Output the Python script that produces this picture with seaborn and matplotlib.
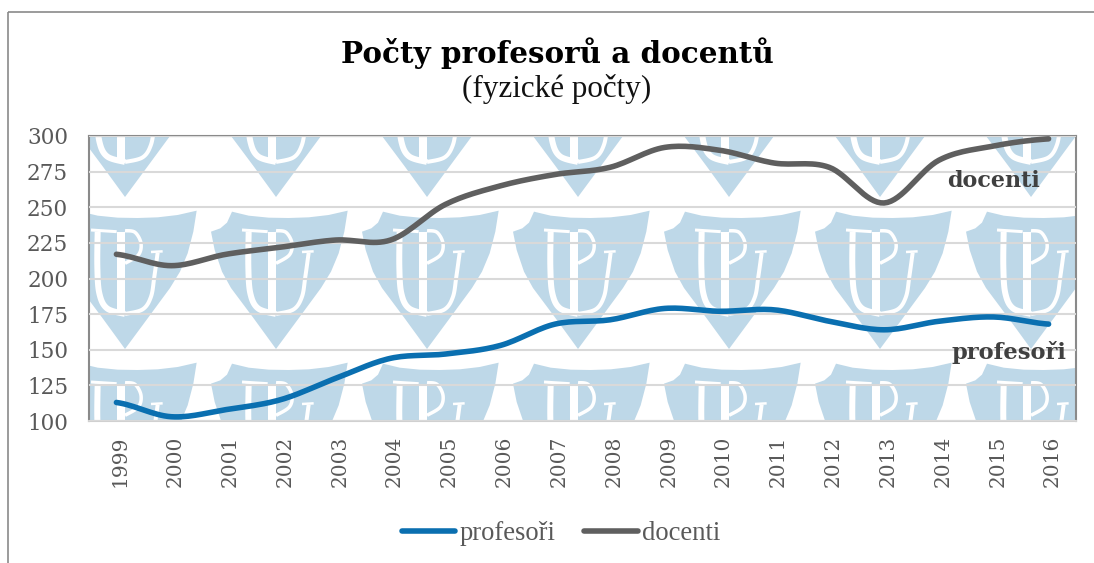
import matplotlib
matplotlib.use("Agg")
import matplotlib.pyplot as plt
import numpy as np
import pandas as pd
import seaborn as sns
from matplotlib.lines import Line2D
from matplotlib.patches import PathPatch, Polygon, Rectangle
from matplotlib.path import Path
from matplotlib.transforms import Affine2D

years = ["1999", "2000", "2001", "2002", "2003", "2004", "2005", "2006", "2007",
         "2008", "2009", "2010", "2011", "2012", "2013", "2014", "2015", "2016"]
profesori = [113, 103, 108, 115, 130, 144, 147, 153, 168, 171, 179, 177, 178, 170, 164, 170, 173, 168]
docenti = [217, 209, 217, 222, 227, 227, 252, 265, 273, 278, 292, 290, 281, 278, 253, 283, 293, 298]
y_ticks = [100, 125, 150, 175, 200, 225, 250, 275, 300]

BLUE = "#0a6fb0"
DARK = "#5f5f5f"
LOGO = "#bed8e8"
W, H = 1094, 563

SHIELD = [(100, 35), (150, 47), (210, 53), (270, 54), (330, 52), (390, 45), (447, 32), (437, 95),
          (420, 160), (397, 215), (367, 264), (300, 355), (232, 447), (165, 355), (97, 264),
          (70, 215), (48, 150), (37, 95), (65, 85), (85, 68), (100, 35)]
STROKES = [
    ([(150, 95), (149, 200), (155, 280), (178, 325), (232, 342)], 6),
    ([(232, 342), (285, 328), (310, 290), (320, 230), (330, 158)], 4),
    ([(130, 90), (207, 95)], 3),
    ([(310, 156), (345, 154)], 2.5),
    ([(219, 95), (219, 345)], 8),
    ([(232, 92), (262, 97), (280, 130), (272, 165), (232, 190)], 3.5),
]


def smooth(values, n=16):
    # same idea as the "smoothed line" option in Excel
    pts = [values[0]] + list(values) + [values[-1]]
    xs, ys = [], []
    for i in range(1, len(pts) - 2):
        t = np.linspace(0, 1, n, endpoint=False)
        p0, p1, p2, p3 = pts[i - 1], pts[i], pts[i + 1], pts[i + 2]
        y = 0.5 * (2 * p1 + (p2 - p0) * t + (2 * p0 - 5 * p1 + 4 * p2 - p3) * t ** 2
                   + (3 * p1 - p0 - 3 * p2 + p3) * t ** 3)
        xs.extend(i - 1 + t)
        ys.extend(y)
    xs.append(len(values) - 1)
    ys.append(values[-1])
    return xs, ys


def draw_logo(ax, trans, tip_x, tip_y):
    def place(points):
        return [(tip_x + (x - 232) / 3, tip_y + (y - 447) / 3) for x, y in points]

    ax.add_patch(Polygon(place(SHIELD), closed=True, fc=LOGO, ec="none", transform=trans, zorder=0.5))
    for points, width in STROKES:
        placed = place(points)
        sx = smooth([p[0] for p in placed])[1]
        sy = smooth([p[1] for p in placed])[1]
        ax.add_patch(PathPatch(Path(list(zip(sx, sy))), fill=False, ec="white", lw=width * 0.72,
                               transform=trans, zorder=0.6))


sns.set_theme(style="white")
plt.rcParams["font.family"] = ["Liberation Serif", "DejaVu Serif"]

fig = plt.figure(figsize=(W / 100, H / 100), dpi=100, facecolor="white")
ax = fig.add_axes([89 / W, (H - 421) / H, 987 / W, 285 / H])
px = Affine2D().scale(1, -1).translate(0, H)

rows = []
for name, values in [("profesoři", profesori), ("docenti", docenti)]:
    xs, ys = smooth(values)
    rows.append(pd.DataFrame({"x": xs, "y": ys, "series": name}))
df = pd.concat(rows)

sns.lineplot(data=df, x="x", y="y", hue="series", palette={"profesoři": BLUE, "docenti": DARK},
             estimator=None, sort=False, lw=4, ax=ax, legend=False, zorder=3,
             solid_capstyle="round")

for tip_y in [197, 349, 501]:
    for tip_x in range(125, 1100, 151):
        draw_logo(ax, px, tip_x, tip_y)

ax.set_xlim(-0.5, 17.5)
ax.set_ylim(100, 300)
ax.set_xticks(range(len(years)))
ax.set_xticklabels(years, rotation=90, fontsize=14.5, color="#595959")
ax.set_yticks(y_ticks)
ax.set_yticklabels(y_ticks, fontsize=15.5, color="#595959")
for tick in ax.get_xticklabels() + ax.get_yticklabels():
    tick.set_fontfamily("DejaVu Serif")
ax.tick_params(axis="x", length=0, pad=10.5)
ax.tick_params(axis="y", length=0, pad=15)
for tick in ax.get_xticklabels():
    tick.set_transform(tick.get_transform() + Affine2D().translate(4, 0))
ax.set_xlabel("")
ax.set_ylabel("")
ax.grid(axis="y", color="#d9d9d9", lw=1.5, zorder=1)
ax.set_axisbelow(False)
for line in ax.get_ygridlines():
    line.set_zorder(1)
for name in ["top", "left", "right"]:
    ax.spines[name].set_color("#8a8a8a")
    ax.spines[name].set_linewidth(1.5)
ax.spines["bottom"].set_color("#d0d0d0")
ax.spines["bottom"].set_linewidth(1.5)

# outer chart frame, runs off the right and bottom edge of the crop
fig.add_artist(Rectangle((8, 12), W + 40, H + 40, fill=False, ec="#8a8a8a", lw=1.2, transform=px))


def label(x, y, text, **kw):
    fig.text(x / W, 1 - y / H, text, va="baseline", **kw)


label(557, 63, "Počty profesorů a docentů", ha="center", fontsize=21.2, fontweight="bold",
      color="black", family="DejaVu Serif")
label(557, 97, "(fyzické počty)", ha="center", fontsize=22.4, color="#111111")
label(947, 187, "docenti", fontsize=16, fontweight="bold", color="#404040", family="DejaVu Serif")
label(952, 359, "profesoři", fontsize=16.3, fontweight="bold", color="#404040", family="DejaVu Serif")

handles = [Line2D([], [], color=BLUE, lw=4, solid_capstyle="round", label="profesoři"),
           Line2D([], [], color=DARK, lw=4, solid_capstyle="round", label="docenti")]
fig.legend(handles=handles, loc="center", bbox_to_anchor=(561 / W, 1 - 534 / H), ncol=2, frameon=False,
           fontsize=19.2, labelcolor="#595959", handlelength=2.0, handletextpad=0.15, columnspacing=1.1)

fig.savefig("out.png", dpi=100)
plt.close()
